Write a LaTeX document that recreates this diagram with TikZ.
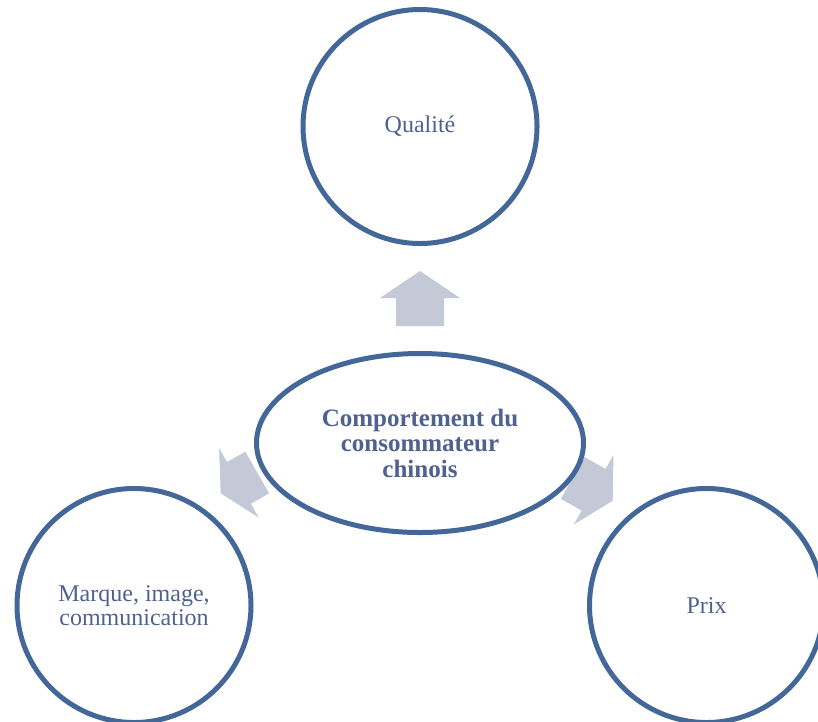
\documentclass[tikz,border=0pt]{standalone}
\usepackage{fontspec}
\setmainfont{Liberation Serif}
\usetikzlibrary{shapes.geometric}
\definecolor{ringblue}{HTML}{44679A}
\definecolor{txtblue}{HTML}{4F6190}
\definecolor{arrowgray}{HTML}{C3C9D6}
\tikzset{
  ring/.style={circle, draw=ringblue, line width=5pt, fill=white, minimum size=234pt,
    inner sep=0pt, text=txtblue, align=center, font=\fontsize{24}{24}\selectfont},
  hub/.style={ellipse, draw=ringblue, line width=5pt, fill=white, minimum width=327pt,
    minimum height=179pt, inner sep=0pt, text=txtblue, align=center,
    font=\bfseries\fontsize{25}{25.5}\selectfont},
  blockarrowfill/.style={fill=arrowgray, draw=none}
}
% #1 tip coordinate, #2 angle, #3 head length, #4 total length
\newcommand{\bkarrow}[4]{%
  \path[blockarrowfill, shift={(#1)}, rotate=#2]
    (0,0) -- (-#3,40) -- (-#3,24) -- (-#4,24) -- (-#4,-24) -- (-#3,-24) -- (-#3,-40) -- cycle;}
\begin{document}
\begin{tikzpicture}[x=1pt,y=-1pt]
  \useasboundingbox (0,0) rectangle (818,721);
  \clip (0,0) rectangle (818,721);
  \fill[white] (0,0) rectangle (818,721);
  % arrow tips
  \coordinate (tipU) at (420,271);
  \coordinate (tipL) at (220.7,493.3);
  \coordinate (tipR) at (612.7,500.7);
  \bkarrow{tipU}{90}{27}{55}
  \bkarrow{tipL}{209.7}{21}{42}
  \bkarrow{tipR}{-29.7}{22}{46}
  % nodes
  \node[ring] (qual) at (420,126.5) {Qualité};
  \node[ring] (marq) at (134,605.5) {Marque, image,\\communication};
  \node[ring] (prix) at (706.5,605.5) {Prix};
  \node[hub] (hub) at (420,443) {Comportement du\\consommateur\\chinois};
\end{tikzpicture}
\end{document}
